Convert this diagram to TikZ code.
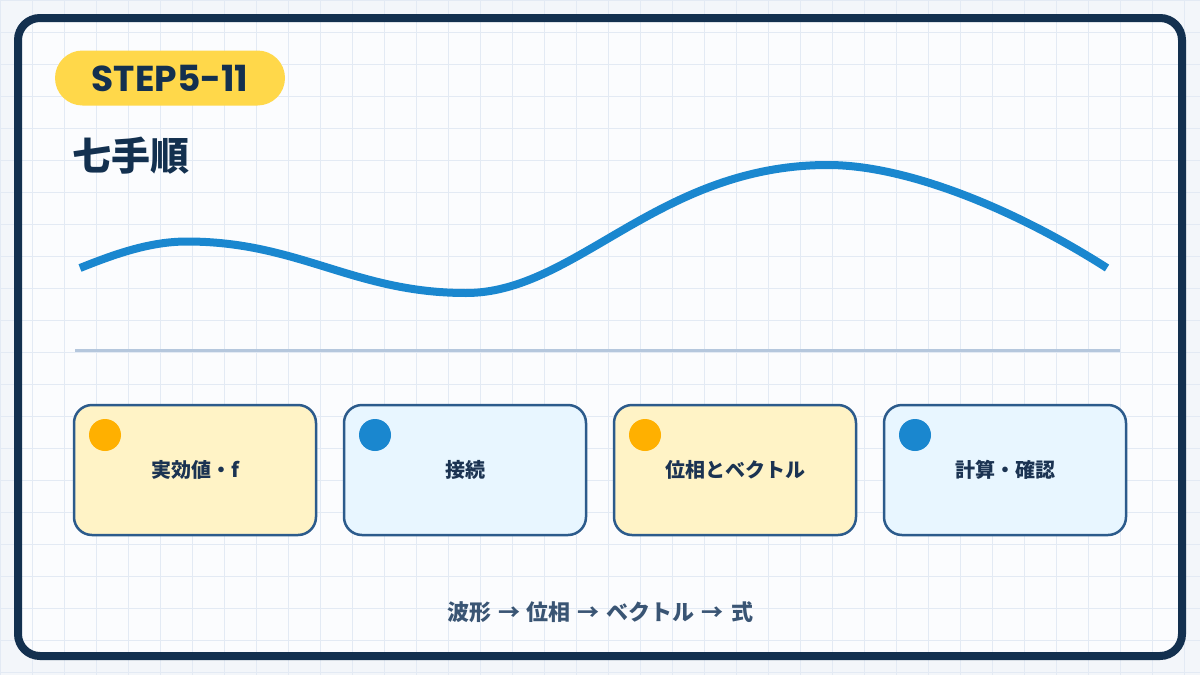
\documentclass[tikz,border=0pt]{standalone}
\usepackage{fontspec}
\setmainfont{Noto Sans CJK JP}
\newfontfamily\tagfont{Poppins}
\usepackage{xcolor}
\usetikzlibrary{positioning}

\definecolor{navy}{HTML}{13304F}
\definecolor{ink}{HTML}{1B3352}
\definecolor{mute}{HTML}{3A5574}
\definecolor{paper}{HTML}{FBFCFE}
\definecolor{outer}{HTML}{F3F6FA}
\definecolor{gridc}{HTML}{E3EAF4}
\definecolor{tagyel}{HTML}{FFD84A}
\definecolor{wavec}{HTML}{1A87CF}
\definecolor{rulec}{HTML}{B5C7DD}
\definecolor{edgec}{HTML}{2C5B8C}
\definecolor{warmf}{HTML}{FFF3C6}
\definecolor{coolf}{HTML}{E8F6FF}
\definecolor{dotorg}{HTML}{FFB000}

\newcommand\flowto{\hspace{7pt}→\hspace{7pt}}

\begin{document}
\begin{tikzpicture}[x=1pt,y=-1pt]
  \tikzset{gridline/.style = {draw=gridc, line width=1pt}}
  \tikzset{card/.style = {shape=rectangle, draw=edgec, line width=2.5pt, rounded corners=18pt, minimum width=242pt, minimum height=130pt, outer sep=0pt, inner sep=0pt, text=ink, font=\fontsize{20}{24}\selectfont\bfseries}}
  \tikzset{warmcard/.style = {card, fill=warmf}}
  \tikzset{coolcard/.style = {card, fill=coolf}}
  \tikzset{dot/.style = {shape=circle, minimum size=32pt, inner sep=0pt}}
  \tikzset{pill/.style = {shape=rectangle, fill=tagyel, rounded corners=27.5pt, minimum width=230pt, minimum height=55pt, text=navy, font=\tagfont\fontsize{36}{40}\selectfont\bfseries}}

  \useasboundingbox (0,0) rectangle (1200,675);
  \fill[outer] (0,0) rectangle (1200,675);
  \fill[paper, rounded corners=22pt] (18,18) rectangle (1182,656);
  \foreach \gx in {0,32,...,1200}
    \draw[gridline] (\gx,0) -- (\gx,675);
  \foreach \gy in {0,32,...,675}
    \draw[gridline] (0,\gy) -- (1200,\gy);
  \draw[navy, line width=8pt, rounded corners=22pt] (18,18) rectangle (1182,656);

	\node[pill] (tag) at (170,78) {STEP5-11};
	\node[anchor=west, text=navy, font=\fontsize{39}{44}\selectfont\bfseries] (title) at (69,156) {七手順};

  % wave
  \draw[wavec, line width=8pt] (80,268) .. controls (115,254) and (150,241.5) .. (187,241.5)
    .. controls (299,241.5) and (354,293) .. (466,293)
    .. controls (576,293) and (658,165) .. (828,165)
    .. controls (908,165) and (1017,210.4) .. (1107,268);

  \coordinate (ruleL) at (75,350);
  \coordinate (ruleR) at (1120,350);
  \draw[rulec, line width=3pt] (ruleL) -- (ruleR);

	\node[warmcard] (c1) at (195,470) {実効値・f};
	\node[coolcard, right=28pt of c1] (c2) {接続};
	\node[warmcard, right=28pt of c2] (c3) {位相とベクトル};
	\node[coolcard, right=28pt of c3] (c4) {計算・確認};

    \foreach \c/\col in {c1/dotorg, c2/wavec, c3/dotorg, c4/wavec}
    \node[dot, fill=\col] (\c dot) at ([shift={(31,30)}]\c.north west) {};

	\node[text=mute, font=\fontsize{22}{26}\selectfont\bfseries] (flow) at (600,612) {波形\flowto 位相\flowto ベクトル\flowto 式};

\end{tikzpicture}
\end{document}
